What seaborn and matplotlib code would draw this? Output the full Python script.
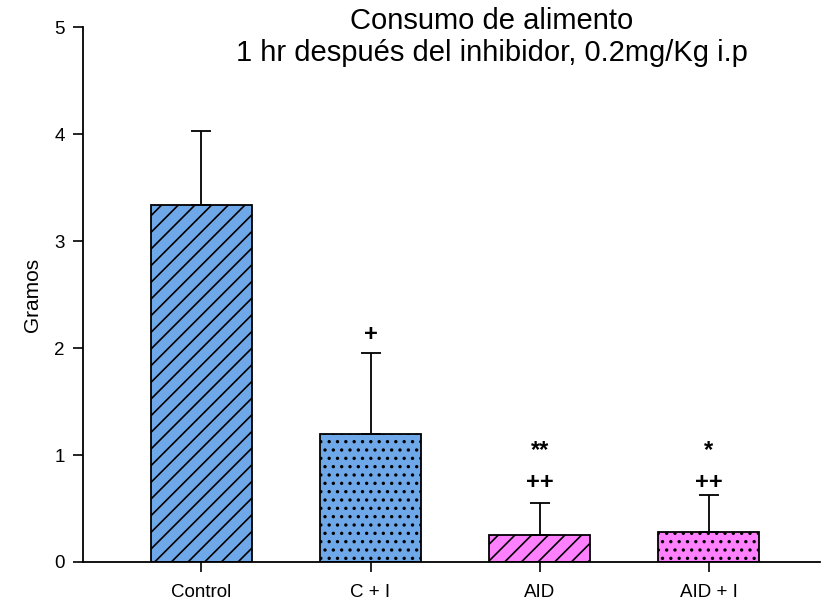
import matplotlib
matplotlib.use("Agg")
import matplotlib.pyplot as plt
import seaborn as sns
import pandas as pd

# Food intake one hour after inhibitor injection
groups = ["Control", "C + I", "AID", "AID + I"]
means = [3.34, 1.20, 0.25, 0.28]
sem_upper = [0.69, 0.75, 0.30, 0.35]
bar_colors = ["#6FA8E8", "#6FA8E8", "#FF80FF", "#FF80FF"]
hatches = ["//", "..", "//", ".."]

# significance marks: (group index, y position, text)
marks = [(1, 2.13, "+"), (2, 0.74, "++"), (2, 1.04, "**"), (3, 0.74, "++"), (3, 1.04, "*")]

sns.set_theme(style="white")
plt.rcParams["font.family"] = ["Liberation Sans", "DejaVu Sans"]
plt.rcParams["hatch.linewidth"] = 1.2
for key in ["text.color", "axes.labelcolor", "xtick.color", "ytick.color"]:
    plt.rcParams[key] = "black"

df = pd.DataFrame({"grupo": groups, "gramos": means})

fig = plt.figure(figsize=(8.22, 6.03), dpi=100)
ax = fig.add_axes([0.101, 0.068, 0.897, 0.887])

sns.barplot(data=df, x="grupo", y="gramos", hue="grupo", palette=bar_colors,
            order=groups, hue_order=groups, width=0.6, errorbar=None,
            legend=False, ax=ax, edgecolor="black", linewidth=1.3, saturation=1)

for patch, h in zip(ax.patches, hatches):
    patch.set_hatch(h)

xs = range(len(groups))
ax.errorbar(xs, means, yerr=[[0] * len(means), sem_upper], fmt="none",
            ecolor="black", elinewidth=1.3, capsize=7.5, capthick=1.3, zorder=3)

for i, y, t in marks:
    ax.text(i, y, t, ha="center", va="center", fontsize=17, fontweight="bold")

ax.set_ylim(0, 5)
ax.set_xlim(-0.70, 3.66)
ax.set_yticks([0, 1, 2, 3, 4, 5])
ax.set_xlabel("")
ax.set_ylabel("Gramos", fontsize=15, labelpad=9)
ax.tick_params(axis="both", direction="out", length=7, width=1.2, color="black",
               labelsize=13.5, bottom=True, left=True)
ax.tick_params(axis="x", pad=9)
ax.tick_params(axis="y", pad=6)
for side in ["top", "right"]:
    ax.spines[side].set_visible(False)
for side in ["left", "bottom"]:
    ax.spines[side].set_color("black")
    ax.spines[side].set_linewidth(1.3)

fig.text(0.598, 0.988, "Consumo de alimento\n1 hr después del inhibidor, 0.2mg/Kg i.p",
         ha="center", va="top", fontsize=21, linespacing=1.15)

fig.savefig("out.png", dpi=100)
